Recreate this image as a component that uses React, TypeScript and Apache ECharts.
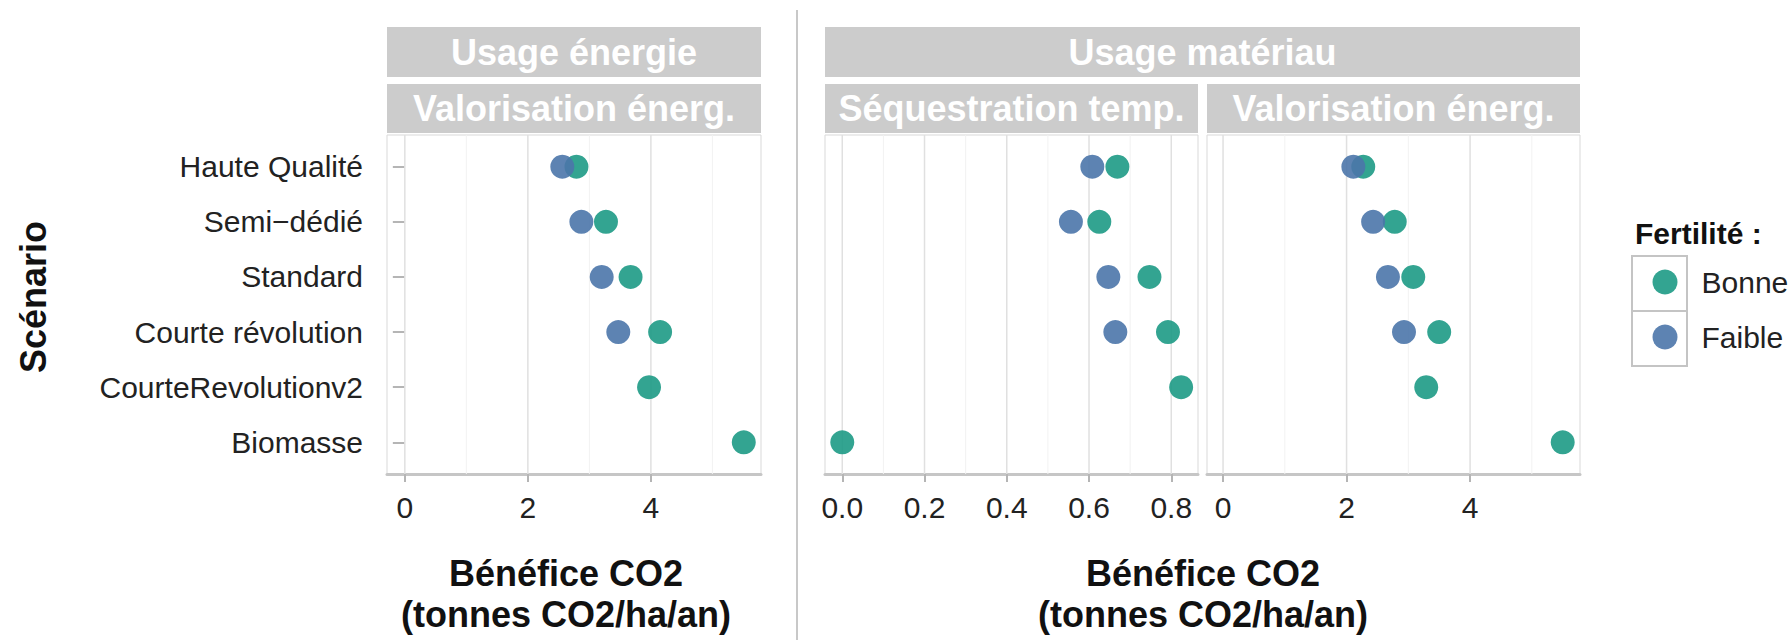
import React, { useEffect, useRef } from "react";
import * as echarts from "echarts";

const scenarios = [
  "Haute Qualité",
  "Semi−dédié",
  "Standard",
  "Courte révolution",
  "CourteRevolutionv2",
  "Biomasse",
];

const energieBonne = [2.79, 3.27, 3.67, 4.15, 3.97, 5.51];
const energieFaible = [2.56, 2.87, 3.2, 3.47, null, null];
const sequestrationBonne = [0.669, 0.625, 0.747, 0.792, 0.824, 0.0];
const sequestrationFaible = [0.608, 0.556, 0.647, 0.664, null, null];
const valorisationBonne = [2.27, 2.78, 3.08, 3.5, 3.29, 5.5];
const valorisationFaible = [2.11, 2.43, 2.67, 2.93, null, null];

const ticksLarge = [0, 2, 4];
const minorLarge = [1, 3, 5];
const ticksSmall = [0, 0.2, 0.4, 0.6, 0.8];
const minorSmall = [0.1, 0.3, 0.5, 0.7];

const fertilites = ["Bonne", "Faible"];
const GREEN = "#1d9a85";
const BLUE = "#4b75aa";
const FONT = '"Liberation Sans", Arial, sans-serif';

const Y_MIN = -0.575;
const Y_MAX = 5.575;

const panels = [
  { left: 387, width: 374, min: -0.29, max: 5.79, ticks: ticksLarge, minor: minorLarge, dec: 0, bonne: energieBonne, faible: energieFaible },
  { left: 825, width: 373, min: -0.042, max: 0.865, ticks: ticksSmall, minor: minorSmall, dec: 1, bonne: sequestrationBonne, faible: sequestrationFaible },
  { left: 1207, width: 373, min: -0.26, max: 5.78, ticks: ticksLarge, minor: minorLarge, dec: 0, bonne: valorisationBonne, faible: valorisationFaible },
];

const toPoints = (vals: (number | null)[]) =>
  vals
    .map((v, i) => (v == null ? null : [v, i]))
    .filter((p) => p !== null);

export default function App() {
  const ref = useRef<HTMLDivElement>(null);

  useEffect(() => {
    if (!ref.current) return;
    const chart = echarts.init(ref.current, null, { renderer: "svg" });
    const yIdx = scenarios.map((_, i) => i);

    const grids = panels.map((p) => ({
      left: p.left,
      top: 135,
      width: p.width,
      height: 339,
      show: true,
      borderColor: "#d9d9d9",
      borderWidth: 1,
      backgroundColor: "#ffffff",
      outerBoundsMode: "none",
      containLabel: false,
    }));

    const xAxes = panels.map((p, i) => ({
      type: "value",
      gridIndex: i,
      min: p.min,
      max: p.max,
      splitLine: { show: false },
      axisLine: { show: true, onZero: false, lineStyle: { color: "#c6c6c6", width: 3 } },
      axisTick: { show: true, customValues: p.ticks, length: 8, lineStyle: { color: "#b5b5b5", width: 2 } },
      axisLabel: {
        customValues: p.ticks,
        formatter: (v: number) => v.toFixed(p.dec),
        fontSize: 30,
        color: "#222222",
        fontFamily: FONT,
        margin: 18,
      },
    }));

    const yAxes = panels.map((p, i) => ({
      type: "value",
      gridIndex: i,
      inverse: true,
      min: Y_MIN,
      max: Y_MAX,
      splitLine: { show: false },
      axisLine: { show: false },
      axisTick: { show: i === 0, customValues: yIdx, length: 12, lineStyle: { color: "#b5b5b5", width: 2 } },
      axisLabel: {
        show: i === 0,
        customValues: yIdx,
        formatter: (v: number) => scenarios[Math.round(v)] ?? "",
        fontSize: 30,
        color: "#222222",
        fontFamily: FONT,
        margin: 24,
      },
    }));

    const series: any[] = [];
    panels.forEach((p, i) => {
      p.minor.forEach((v) => {
        series.push({
          type: "line",
          name: "grid-minor",
          xAxisIndex: i,
          yAxisIndex: i,
          data: [[v, Y_MIN], [v, Y_MAX]],
          symbol: "none",
          silent: true,
          z: 1,
          lineStyle: { color: "#f2f2f2", width: 1 },
        });
      });
      p.ticks.forEach((v) => {
        series.push({
          type: "line",
          name: "grid-major",
          xAxisIndex: i,
          yAxisIndex: i,
          data: [[v, Y_MIN], [v, Y_MAX]],
          symbol: "none",
          silent: true,
          z: 1,
          lineStyle: { color: "#e0e0e0", width: 1.5 },
        });
      });
      series.push({
        type: "scatter",
        name: fertilites[0],
        xAxisIndex: i,
        yAxisIndex: i,
        data: toPoints(p.bonne),
        symbolSize: 24,
        z: 3,
        itemStyle: { color: GREEN, opacity: 0.9 },
      });
      series.push({
        type: "scatter",
        name: fertilites[1],
        xAxisIndex: i,
        yAxisIndex: i,
        data: toPoints(p.faible),
        symbolSize: 24,
        z: 4,
        itemStyle: { color: BLUE, opacity: 0.9 },
      });
    });

    const stripText = (text: string, x: number, y: number) => ({
      type: "text",
      x,
      y,
      z: 5,
      style: {
        text,
        fill: "#ffffff",
        fontSize: 36,
        fontWeight: "bold",
        fontFamily: FONT,
        align: "center",
        verticalAlign: "middle",
        textAlign: "center",
        textVerticalAlign: "middle",
      },
    });
    const stripRect = (x: number, y: number, w: number, h: number) => ({
      type: "rect",
      shape: { x, y, width: w, height: h },
      z: 4,
      style: { fill: "#cccccc" },
    });
    const axisTitle = (x: number) => ({
      type: "text",
      x,
      y: 594,
      style: {
        text: "Bénéfice CO2\n(tonnes CO2/ha/an)",
        fill: "#111111",
        fontSize: 36,
        fontWeight: "bold",
        fontFamily: FONT,
        lineHeight: 41,
        align: "center",
        verticalAlign: "middle",
        textAlign: "center",
        textVerticalAlign: "middle",
      },
    });

    const graphic = [
      { type: "line", shape: { x1: 797, y1: 10, x2: 797, y2: 640 }, style: { stroke: "#c8c8c8", lineWidth: 2 } },
      stripRect(387, 27, 374, 50),
      stripText("Usage énergie", 574, 52),
      stripRect(387, 84, 374, 49),
      stripText("Valorisation énerg.", 574, 108.5),
      stripRect(825, 27, 755, 50),
      stripText("Usage matériau", 1202.5, 52),
      stripRect(825, 84, 373, 49),
      stripText("Séquestration temp.", 1011.5, 108.5),
      stripRect(1207, 84, 373, 49),
      stripText("Valorisation énerg.", 1393.5, 108.5),
      axisTitle(566),
      axisTitle(1203),
      {
        type: "text",
        x: 33,
        y: 297,
        rotation: Math.PI / 2,
        style: {
          text: "Scénario",
          fill: "#111111",
          fontSize: 36,
          fontWeight: "bold",
          fontFamily: FONT,
          align: "center",
          verticalAlign: "middle",
          textAlign: "center",
          textVerticalAlign: "middle",
        },
      },
      {
        type: "text",
        x: 1635,
        y: 233,
        style: {
          text: "Fertilité :",
          fill: "#111111",
          fontSize: 30,
          fontWeight: "bold",
          fontFamily: FONT,
          align: "left",
          verticalAlign: "middle",
          textAlign: "left",
          textVerticalAlign: "middle",
        },
      },
      { type: "rect", z: 0, shape: { x: 1632, y: 256, width: 55, height: 55 }, style: { fill: "#ffffff", stroke: "#c4c4c4", lineWidth: 2 } },
      { type: "rect", z: 0, shape: { x: 1632, y: 311, width: 55, height: 55 }, style: { fill: "#ffffff", stroke: "#c4c4c4", lineWidth: 2 } },
    ];

    chart.setOption({
      animation: false,
      backgroundColor: "#ffffff",
      grid: grids,
      xAxis: xAxes,
      yAxis: yAxes,
      series,
      legend: {
        data: fertilites,
        orient: "vertical",
        left: 1647.5,
        top: 262,
        itemWidth: 25,
        itemHeight: 25,
        itemGap: 25,
        icon: "circle",
        selectedMode: false,
        z: 10,
        textStyle: { fontSize: 30, color: "#222222", fontFamily: FONT, padding: [0, 0, 0, 19], lineHeight: 25 },
      },
      graphic,
    });

    return () => chart.dispose();
  }, []);

  return (
    <div
      ref={ref}
      style={{ position: "fixed", left: 0, top: 0, width: 1792, height: 640, background: "#fff" }}
    />
  );
}
